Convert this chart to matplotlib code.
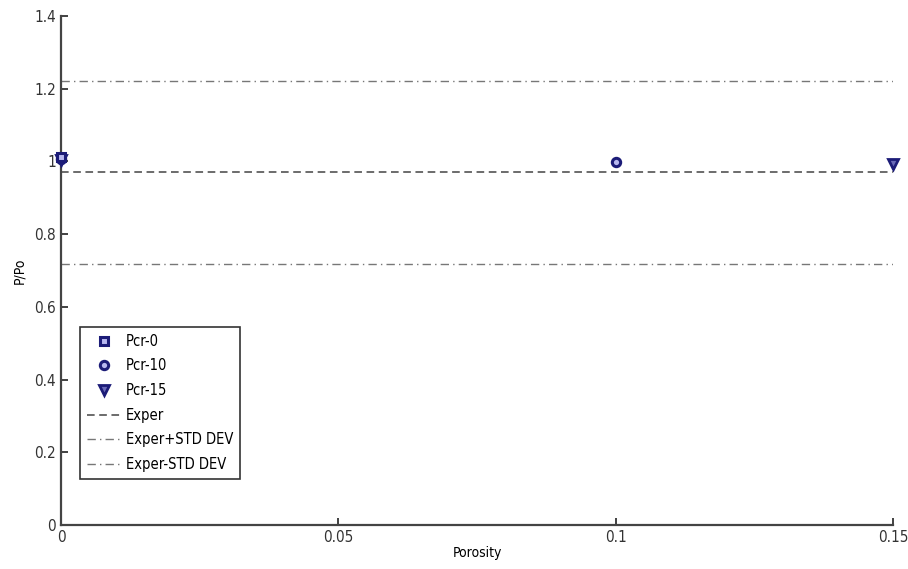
import matplotlib
matplotlib.use('Agg')
import matplotlib.pyplot as plt

plt.rcParams['font.family'] = ['DejaVu Sans']
plt.rcParams['font.stretch'] = 'condensed'

# data
pcr0_x = [0.0]
pcr0_y = [1.012]
pcr10_x = [0.0, 0.1]
pcr10_y = [1.008, 0.998]
pcr15_x = [0.0, 0.15]
pcr15_y = [1.005, 0.993]

exper = 0.971
exper_plus = 1.221
exper_minus = 0.718
xlim = [0, 0.15]

navy = '#1c1c78'
gray = '#777777'

fig = plt.figure(figsize=(9.08, 5.69), dpi=100)
ax = fig.add_axes([0.0672, 0.0773, 0.9163, 0.8946])

ax.plot(pcr0_x, pcr0_y, 's', ms=6, mfc='#b8b8f0', mec=navy, mew=2.2, label='Pcr-0', clip_on=False, zorder=5)
ax.plot(pcr10_x, pcr10_y, 'o', ms=6, mfc='#b8b8f0', mec=navy, mew=2.2, label='Pcr-10', clip_on=False, zorder=4)
ax.plot(pcr15_x, pcr15_y, 'v', ms=6.5, mfc='#6a6ab8', mec=navy, mew=2.0, label='Pcr-15', clip_on=False, zorder=3)

ax.plot(xlim, [exper, exper], '--', color='#444444', lw=1.1, dashes=(5, 3), label='Exper')
ax.plot(xlim, [exper_plus, exper_plus], '-.', color=gray, lw=1.0, dashes=(6, 3, 1, 3), label='Exper+STD DEV')
ax.plot(xlim, [exper_minus, exper_minus], '-.', color=gray, lw=1.0, dashes=(6, 3, 1, 3), label='Exper-STD DEV')

ax.set_xlim(xlim)
ax.set_ylim(0, 1.4)
ax.set_xticks([0, 0.05, 0.1, 0.15])
ax.set_xticklabels(['0', '0.05', '0.1', '0.15'])
ax.set_yticks([0, 0.2, 0.4, 0.6, 0.8, 1.0, 1.2, 1.4])
ax.set_yticklabels(['0', '0.2', '0.4', '0.6', '0.8', '1', '1.2', '1.4'])
ax.tick_params(direction='in', length=5, width=1.3, labelsize=11, colors='#333333')

for s in ['top', 'right']:
    ax.spines[s].set_visible(False)
for s in ['left', 'bottom']:
    ax.spines[s].set_linewidth(1.6)
    ax.spines[s].set_color('#444444')

ax.set_xlabel('Porosity', fontsize=10, labelpad=1)
ax.set_ylabel('P/Po', fontsize=10, labelpad=6)

leg = ax.legend(loc='lower left', bbox_to_anchor=(0.014, 0.077), fontsize=10.5, frameon=True,
                fancybox=False, edgecolor='black', handlelength=2.4, borderpad=0.45,
                labelspacing=0.66, handletextpad=0.3)
leg.get_frame().set_linewidth(1.2)

fig.savefig('out.png', dpi=100)
